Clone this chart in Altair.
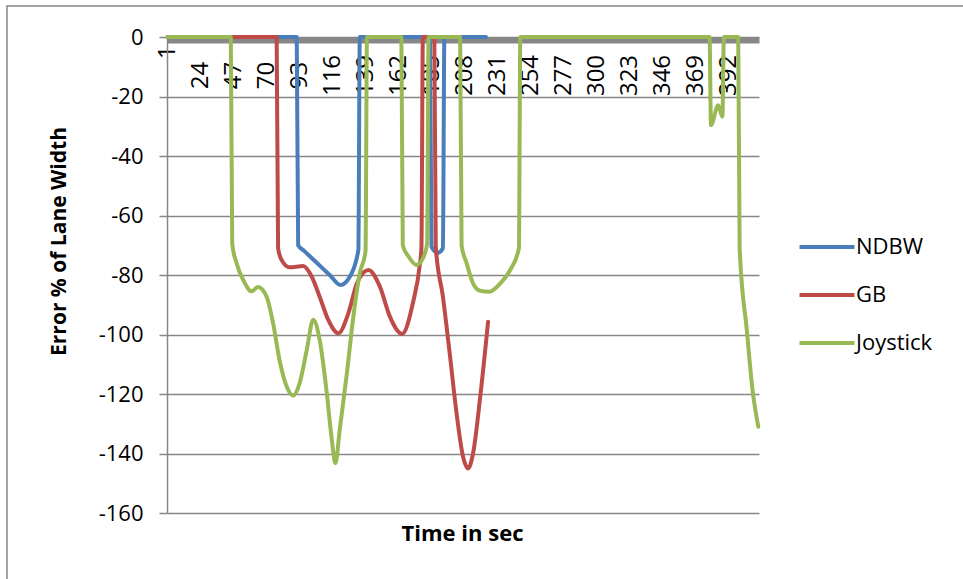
import altair as alt
import pandas as pd

# Lane-keeping error over time (seconds) for three steering interfaces.
# Values are percent of lane width; 0 means the vehicle stayed in lane.
ndbw_t = [1, 91, 92, 96, 105, 114, 121.5, 128, 134, 135, 184, 185, 189.5, 193, 194, 223]
ndbw_v = [0, 0, -70, -71.8, -75.9, -80, -83.4, -80.6, -71.6, 0, 0, -70.5, -72.5, -71, 0, 0]

gb_t = [1, 77, 78, 80.5, 86, 95.5, 101.5, 107, 113, 120, 127, 133, 141, 149, 156, 164.5,
        172, 177, 178, 179, 187, 188, 193, 198, 202.5, 207, 210.5, 214, 219, 224.5]
gb_v = [0, 0, -71, -75, -77.4, -77, -80.6, -87.3, -95.1, -99.6, -92.9, -82.8, -78.3, -83.9, -94, -99.8,
        -89.5, -76, -71, 0, 0, -70.5, -87.3, -107.5, -126.5, -141, -145, -140, -121, -95.7]

joy_t = [1, 45, 46, 49, 54, 59.5, 64, 70, 74.5, 79, 84, 88.5, 93, 98, 102.5, 107, 112, 115.5,
         118, 121, 126, 130.5, 135, 139, 140, 164, 165, 169, 174.5, 179, 182, 183, 205, 206,
         209.5, 214, 219, 225.5, 233, 240, 246, 247, 379, 380, 385, 388, 389, 399, 400, 405, 409, 413]
joy_v = [0, 0, -69.5, -76, -82, -85.5, -84, -87.3, -96.2, -108.6, -117.5, -120.5, -116.4, -105.2,
         -95, -101.8, -119.8, -135.5, -143.3, -132, -113, -94, -79.4, -72, 0, 0, -70, -73.8, -76.6,
         -74.4, -69.3, 0, 0, -70, -76, -82.8, -85.3, -85.6, -82.8, -78.3, -71, 0, 0, -29.6, -22.9,
         -26.8, 0, 0, -71, -98.5, -118.7, -131]

series_names = ["NDBW", "GB", "Joystick"]
series_colors = ["#4A7EBB", "#BE4B48", "#98B954"]
x_ticks = [1, 24, 47, 70, 93, 116, 139, 162, 185, 208, 231, 254, 277, 300, 323, 346, 369, 392]
y_ticks = [0, -20, -40, -60, -80, -100, -120, -140, -160]
n_seconds = 413

frames = []
for name, ts, vs in zip(series_names, (ndbw_t, gb_t, joy_t), (ndbw_v, gb_v, joy_v)):
    frames.append(pd.DataFrame({"series": name, "t": ts, "v": vs}))

FONT = "Open Sans"
GRAY = "#878787"
PLOT_W = 592
PLOT_H = 476

# the first category label sits right under the axis line, the rest are centred lower
x_label_padding = {"condition": {"test": "datum.value == 1", "value": 12}, "value": 35}

x_enc = alt.X(
    "t:Q",
    scale=alt.Scale(domain=[0.5, n_seconds + 0.5], nice=False, zero=False),
    axis=alt.Axis(
        orient="bottom", offset=-(PLOT_H - 3), values=x_ticks, labelExpr="'' + datum.value",
        labelAngle=-90, labelAlign="center", labelBaseline="middle",
        labelPadding=x_label_padding,
        ticks=False, grid=False, domainColor=GRAY, domainWidth=6,
        labelFont=FONT, labelFontSize=24, labelColor="#000000",
        title="Time in sec", titleFont=FONT, titleFontSize=22, titleFontWeight="bold",
        titleColor="#000000", titleX=295, titleY=500, titleBaseline="alphabetic",
        titleAlign="center",
    ),
)
y_enc = alt.Y(
    "v:Q",
    scale=alt.Scale(domain=[-160, 0], nice=False),
    axis=alt.Axis(
        values=y_ticks, labelExpr="'' + datum.value", tickSize=8, tickColor=GRAY, tickWidth=1.5,
        domainColor=GRAY, domainWidth=1.5, gridColor=GRAY, gridWidth=1.3,
        labelFont=FONT, labelFontSize=22, labelColor="#000000", labelPadding=16,
        title="Error % of Lane Width", titleFont=FONT, titleFontSize=21,
        titleFontWeight="bold", titleColor="#000000", titleX=-108, titleY=204,
        titleAlign="center", titleBaseline="middle", titleAngle=270,
    ),
)
color_enc = alt.Color(
    "series:N",
    scale=alt.Scale(domain=series_names, range=series_colors),
    legend=alt.Legend(
        title=None, orient="none", legendX=631, legendY=199,
        symbolType="M-5.5,0H5.5", symbolSize=100, symbolStrokeWidth=4,
        symbolOffset=18, labelOffset=18, rowPadding=26,
        labelFont=FONT, labelFontSize=22, labelColor="#000000",
    ),
)

layers = []
for df in frames:
    layers.append(
        alt.Chart(df)
        .mark_line(interpolate="monotone", strokeWidth=4, strokeCap="round", strokeJoin="round")
        .encode(x=x_enc, y=y_enc, color=color_enc, order="t:Q")
    )

# outer frame of the chart area
frame = alt.Chart(pd.DataFrame({"k": [0]})).mark_rect(
    fillOpacity=0, stroke=GRAY, strokeWidth=1.5
).encode(x=alt.value(-160), x2=alt.value(900), y=alt.value(-31), y2=alt.value(700))

chart = (
    alt.layer(frame, *layers)
    .properties(
        width=PLOT_W, height=PLOT_H,
        autosize=alt.AutoSizeParams(type="none"),
        padding={"left": 167, "top": 37, "right": 204, "bottom": 66},
        background="#ffffff",
    )
    .configure_view(strokeWidth=0)
)

chart.save("out.html", embed_options={"renderer": "svg", "actions": False})
